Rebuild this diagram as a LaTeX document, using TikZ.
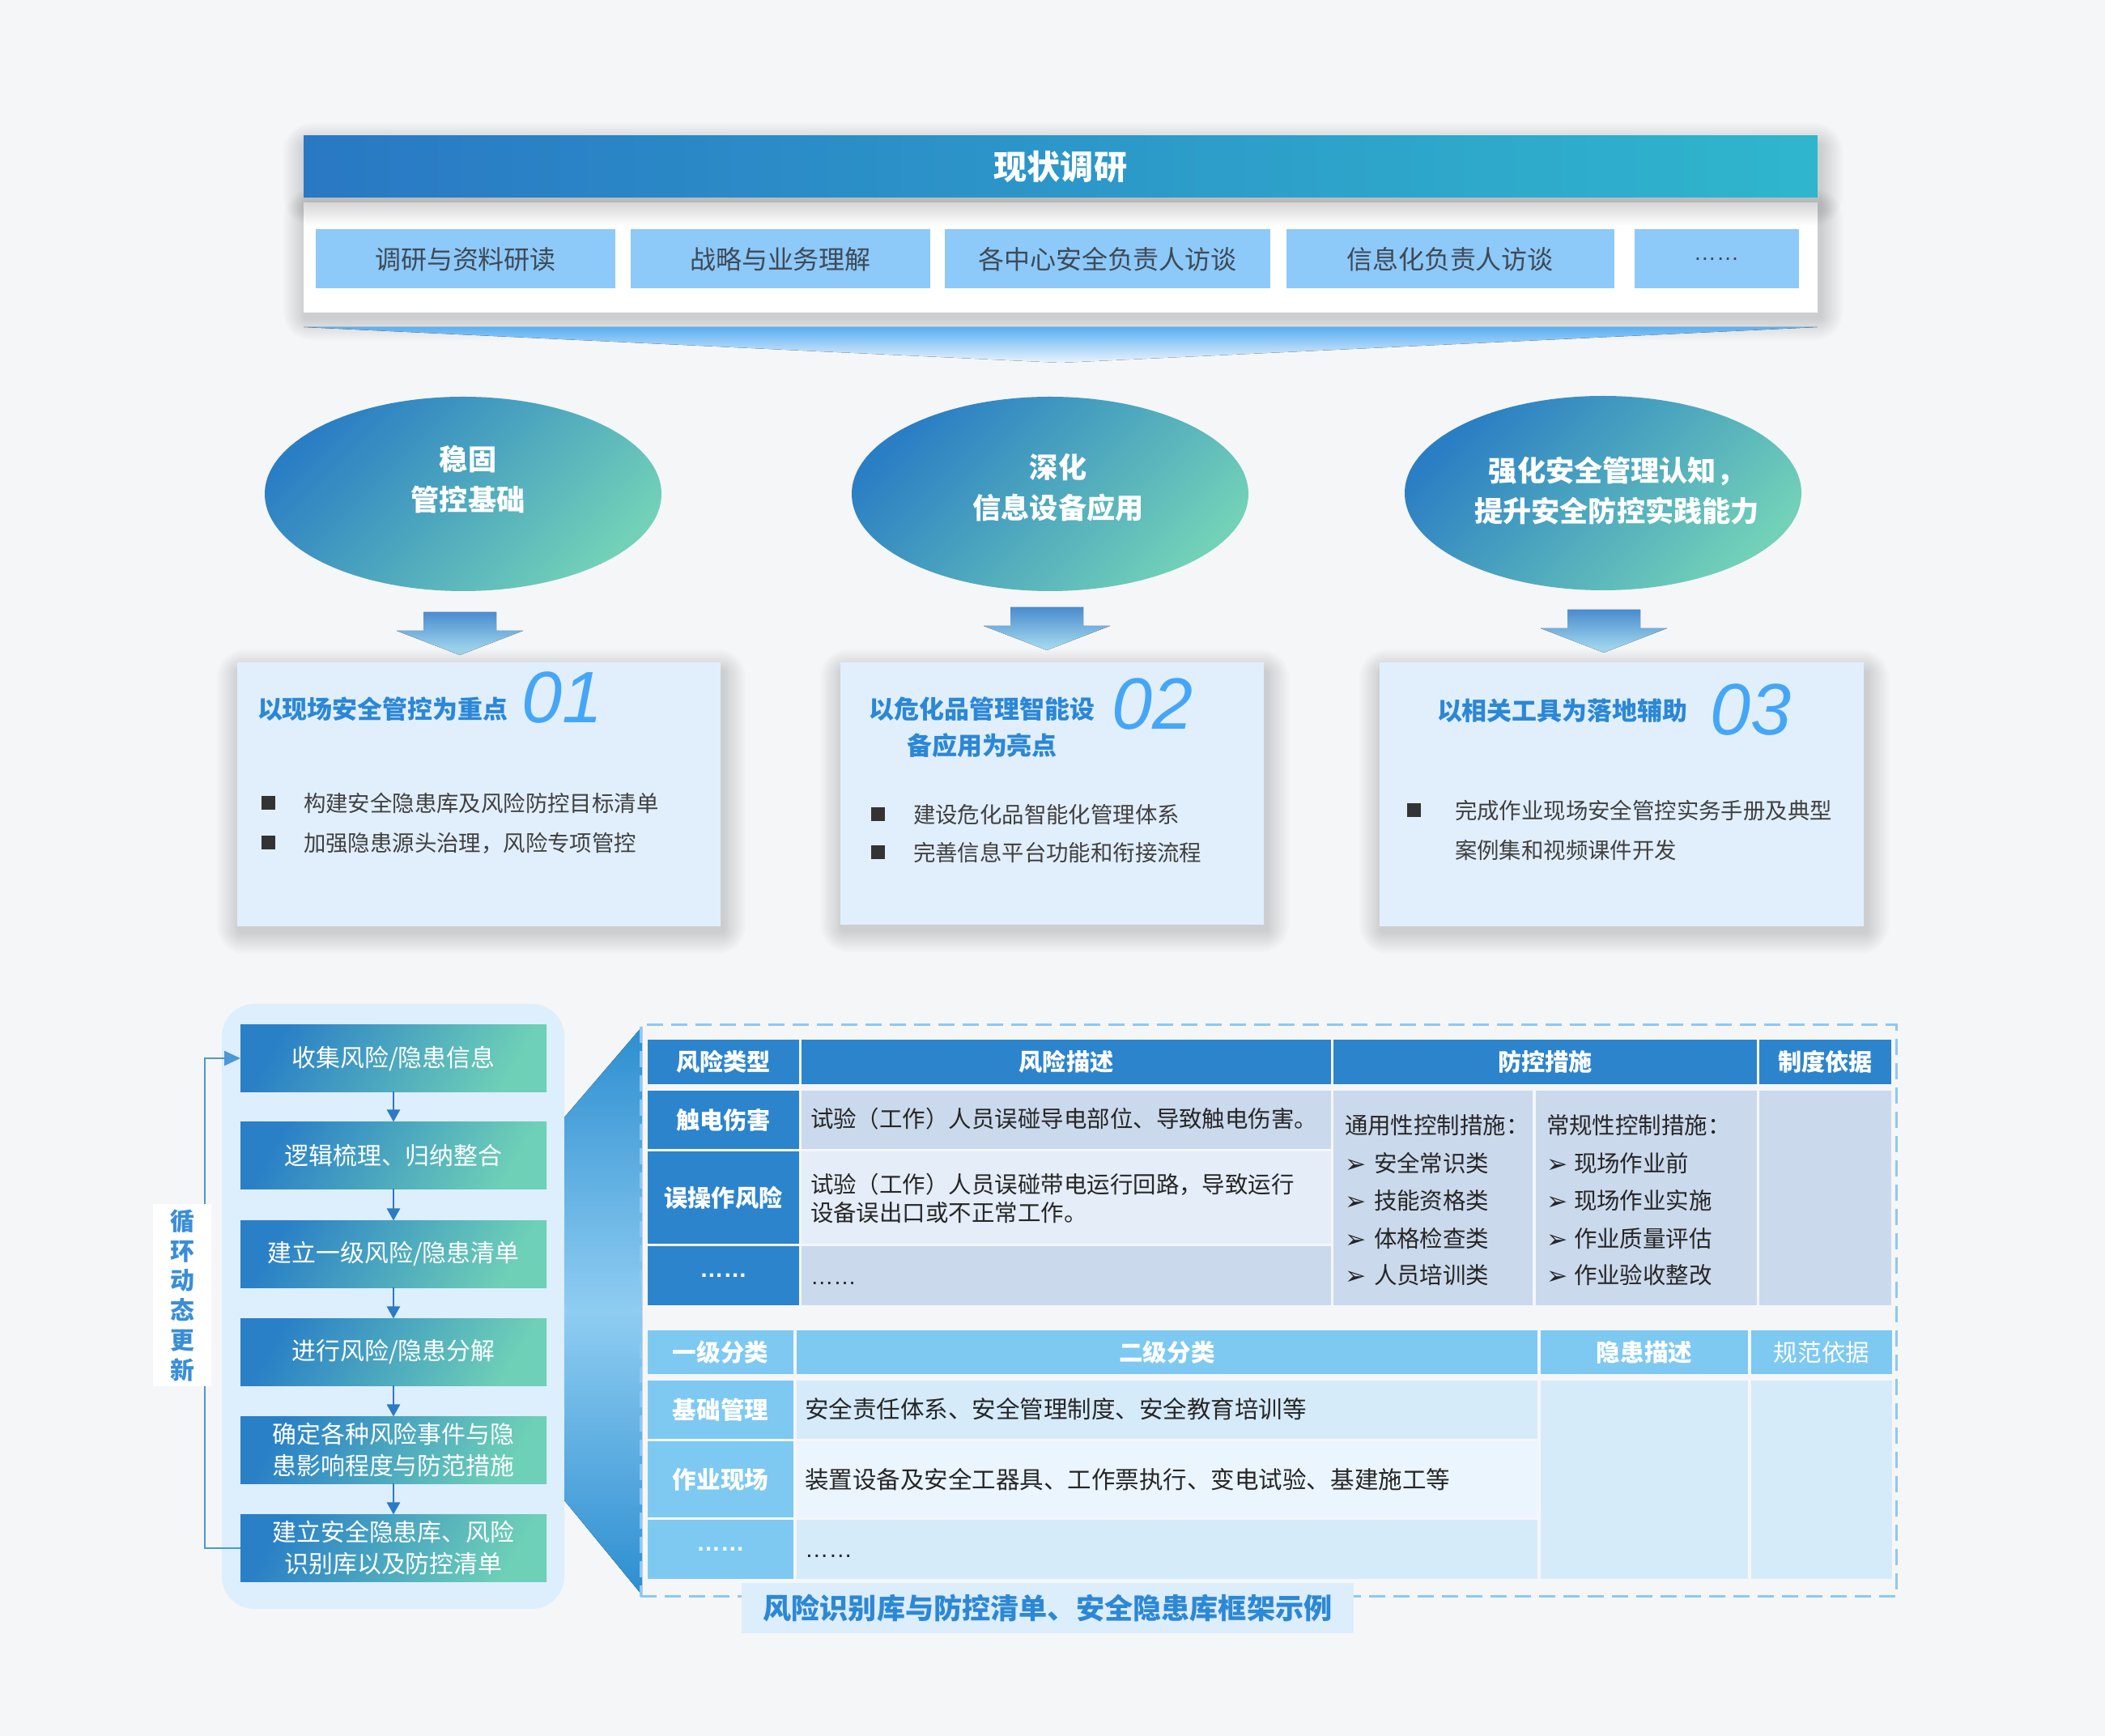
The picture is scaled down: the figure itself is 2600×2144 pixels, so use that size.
\documentclass[tikz,border=0pt]{standalone}
\usepackage{fontspec}
\setmainfont{Noto Sans CJK SC}
\newfontfamily\latinf{Liberation Sans}
\newfontfamily\dejavuf{DejaVu Sans}
\usetikzlibrary{shapes.geometric,arrows.meta}
\newcommand\setfs[2]{\fontsize{#1pt}{#2pt}\selectfont}
\newcommand\dotsix{{\latinf ……}}
\newcommand\arrg{\raisebox{-0.1mm}{\scalebox{1.1}{\dejavuf ➢}}}
\definecolor{bgc}{HTML}{F5F6F8}
\definecolor{bannerL}{HTML}{2978C4}
\definecolor{bannerR}{HTML}{2FB6CD}
\definecolor{sboxc}{HTML}{8DC9F9}
\definecolor{sboxt}{HTML}{3E4A56}
\definecolor{chevA}{HTML}{5AAFF3}
\definecolor{chevB}{HTML}{EAF4FD}
\definecolor{ellA}{HTML}{2A7EC4}
\definecolor{ellB}{HTML}{72D1B8}
\definecolor{arrA}{HTML}{4A8CCF}
\definecolor{arrB}{HTML}{A9DEF0}
\definecolor{cardc}{HTML}{E1EFFD}
\definecolor{titlec}{HTML}{2C87D5}
\definecolor{numc}{HTML}{46A6F6}
\definecolor{bulc}{HTML}{333333}
\definecolor{btextc}{HTML}{404040}
\definecolor{lpanelc}{HTML}{DDEEFC}
\definecolor{stepA}{HTML}{2A80C6}
\definecolor{stepB}{HTML}{6ED0B7}
\definecolor{steparr}{HTML}{2B7AC3}
\definecolor{loopc}{HTML}{4B97D7}
\definecolor{vtextc}{HTML}{3A8ED8}
\definecolor{funA}{HTML}{2C8ED0}
\definecolor{funM}{HTML}{8FCDF2}
\definecolor{dashc}{HTML}{8EC8F2}
\definecolor{tblue}{HTML}{2C84CC}
\definecolor{tdark}{HTML}{CBD9EC}
\definecolor{tlight}{HTML}{E5EDF8}
\definecolor{ublue}{HTML}{7DC9F1}
\definecolor{ubody}{HTML}{D6EBFA}
\definecolor{ulight}{HTML}{EBF5FD}
\definecolor{bodyc}{HTML}{262626}
\definecolor{capbg}{HTML}{DCEDFC}
\definecolor{capt}{HTML}{2D88D4}
\newcommand\tcell[7]{\node[#6,anchor=north west,minimum width={(#4-#2)*0.1mm},minimum height={(#5-#3)*0.1mm}] (#1) at (#2,#3) {#7};}
\newcommand\fatarrow[2]{\fill[fatarr] (#1-45,#2) -- (#1+45,#2) -- (#1+45,#2+23) -- (#1+78,#2+23) -- (#1,#2+53) -- (#1-78,#2+23) -- (#1-45,#2+23) -- cycle;}
\newcommand\shadowbox[5]{\foreach \i in {1,...,10}{\fill[black,opacity=#5,rounded corners={\i*0.35mm}] ({#1-\i*2.8+3},{#2-\i*2.8+12}) rectangle ({#3+\i*2.8+3},{#4+\i*2.8+6});}}
\begin{document}
\begin{tikzpicture}[x=0.1mm,y=-0.1mm,
 every node/.style={inner sep=0pt,outer sep=0pt},
 banner/.style={rectangle,left color=bannerL,right color=bannerR,text=white,font=\setfs{11.7}{14}\bfseries},
 toppanel/.style={rectangle,fill=white},
 sbox/.style={rectangle,fill=sboxc,minimum height=7.3mm,text=sboxt,font=\setfs{9.1}{11}},
 ell/.style={ellipse,minimum width=49mm,minimum height=24mm,top color=ellA,bottom color=ellB,shading angle=45},
 elltext/.style={text=white,align=center,font=\setfs{10}{14.2}\bfseries},
 fatarr/.style={top color=arrA,bottom color=arrB},
 card/.style={rectangle,fill=cardc,anchor=north west},
 ctitle/.style={text=titlec,font=\setfs{8.8}{12.8}\bfseries},
 cnum/.style={text=numc,anchor=west,font=\latinf\itshape\setfs{25.6}{30}},
 bsq/.style={fill=bulc,minimum width=1.7mm,minimum height=1.7mm},
 btext/.style={text=btextc,font=\setfs{7.8}{13.9},anchor=west},
 lpanel/.style={rectangle,rounded corners=4mm,fill=lpanelc},
 stepbox/.style={rectangle,minimum width=37.8mm,minimum height=8.3mm,top color=stepA,bottom color=stepB,shading angle=60,text=white,align=center,font=\setfs{8.5}{11.1}},
 steparrow/.style={draw=steparr,line width=0.25mm,-{Triangle[length=1.5mm,width=1.6mm]}},
 loopline/.style={draw=loopc,line width=0.25mm,-{Triangle[length=2mm,width=1.8mm]}},
 vtext/.style={fill=white,text=vtextc,align=center,minimum width=7.2mm,minimum height=22.5mm,font=\setfs{8.5}{10.5}\bfseries},
 th/.style={fill=tblue,text=white,font=\setfs{8.3}{10}\bfseries},
 tdk/.style={fill=tdark},
 tlt/.style={fill=tlight},
 uh/.style={fill=ublue,text=white,font=\setfs{8.4}{10}\bfseries},
 uhr/.style={fill=ublue,text=white,font=\setfs{8.4}{10}},
 ubd/.style={fill=ubody},
 ult/.style={fill=ulight},
 body/.style={text=bodyc,font=\setfs{8.1}{10},align=left,anchor=west},
 ubodyt/.style={text=bodyc,font=\setfs{8.4}{10},align=left,anchor=west},
 frame/.style={draw=dashc,line width=0.3mm,dash pattern=on 2mm off 1mm},
 caption/.style={fill=capbg,text=capt,font=\setfs{10}{12}\bfseries}
]
\useasboundingbox (0,0) rectangle (2600,2144);
\fill[bgc] (0,0) rectangle (2600,2144);

% ---------- top section ----------
\shadowbox{375}{250}{2245}{386}{0.014}
\node[toppanel,anchor=north west,minimum width=187mm,minimum height=13.6mm] (tp) at (375,250) {};
\shadowbox{375}{168}{2245}{244}{0.016}
\node[banner,anchor=north west,minimum width=187mm,minimum height=7.6mm] (ban) at (375,168) {现状调研};
\node[sbox,minimum width=37mm] (s1) at (575,320) {调研与资料研读};
\node[sbox,minimum width=37mm] (s2) at (964,320) {战略与业务理解};
\node[sbox,minimum width=40.2mm] (s3) at (1368,320) {各中心安全负责人访谈};
\node[sbox,minimum width=40.5mm] (s4) at (1791,320) {信息化负责人访谈};
\node[sbox,minimum width=20.3mm] (s5) at (2120,320) {\setfs{8}{10}\dotsix};
\fill[top color=chevA,bottom color=chevB] (375,404) -- (2245,404) -- (1310,448) -- cycle;

% ---------- ellipses ----------
\node[ell] (e1) at (572,610) {};
\node[elltext] (e1t) at (578,592) {稳固\\管控基础};
\node[ell] (e2) at (1297,610) {};
\node[elltext] (e2t) at (1307,602) {深化\\信息设备应用};
\node[ell] (e3) at (1980,609) {};
\node[elltext] (e3t) at (1997,606) {强化安全管理认知，\\提升安全防控实践能力};

% ---------- fat arrows ----------
\fatarrow{568}{756}
\fatarrow{1293}{750}
\fatarrow{1981}{753}

% ---------- cards ----------
\shadowbox{293}{818}{890}{1144}{0.016}
\shadowbox{1038}{818}{1561}{1142}{0.016}
\shadowbox{1704}{818}{2302}{1144}{0.016}
\node[card,minimum width=59.7mm,minimum height=32.6mm] (k1) at (293,818) {};
\node[card,minimum width=52.3mm,minimum height=32.4mm] (k2) at (1038,818) {};
\node[card,minimum width=59.8mm,minimum height=32.6mm] (k3) at (1704,818) {};

\node[ctitle,anchor=west] (k1t) at (318,876) {以现场安全管控为重点};
\node[cnum] (k1n) at (644,862) {01};
\node[ctitle,align=center] (k2t) at (1213,898) {以危化品管理智能设\\备应用为亮点};
\node[cnum] (k2n) at (1373,870) {02};
\node[ctitle,anchor=west] (k3t) at (1775,878) {以相关工具为落地辅助};
\node[cnum] (k3n) at (2112,877) {03};

\node[bsq] (k1q1) at (331,992) {};
\node[btext] (k1l1) at (375,992) {构建安全隐患库及风险防控目标清单};
\node[bsq] (k1q2) at (331,1041) {};
\node[btext] (k1l2) at (375,1041) {加强隐患源头治理，风险专项管控};
\node[bsq] (k2q1) at (1084,1006) {};
\node[btext] (k2l1) at (1128,1006) {建设危化品智能化管理体系};
\node[bsq] (k2q2) at (1084,1053) {};
\node[btext] (k2l2) at (1128,1053) {完善信息平台功能和衔接流程};
\node[bsq] (k3q1) at (1746,1001) {};
\node[btext] (k3l1) at (1797,1001) {完成作业现场安全管控实务手册及典型};
\node[btext] (k3l2) at (1797,1050) {案例集和视频课件开发};

% ---------- left flow panel ----------
\node[lpanel,anchor=north west,minimum width=42.3mm,minimum height=74.7mm] (lp) at (274,1240) {};
\node[stepbox] (p1) at (486,1307) {收集风险/隐患信息};
\node[stepbox] (p2) at (486,1427) {逻辑梳理、归纳整合};
\node[stepbox] (p3) at (486,1549) {建立一级风险/隐患清单};
\node[stepbox] (p4) at (486,1670) {进行风险/隐患分解};
\node[stepbox] (p5) at (486,1791) {确定各种风险事件与隐\\患影响程度与防范措施};
\node[stepbox] (p6) at (486,1912) {建立安全隐患库、风险\\识别库以及防控清单};
\draw[steparrow] (p1) -- (p2);
\draw[steparrow] (p2) -- (p3);
\draw[steparrow] (p3) -- (p4);
\draw[steparrow] (p4) -- (p5);
\draw[steparrow] (p5) -- (p6);
\coordinate (lx) at (253,1600);
\draw[loopline] (p6.west) -- (p6.west -| lx) |- (p1.west);
\node[vtext] (vt) at (225,1600) {循\\环\\动\\态\\更\\新};

% ---------- funnel + frame ----------
\fill[top color=funA,bottom color=funA,middle color=funM] (697,1380) -- (793,1268) -- (793,1970) -- (697,1853) -- cycle;
\node[frame,anchor=north west,minimum width=155.1mm,minimum height=70.6mm] (fr) at (791,1266) {};

% ---------- table 1 ----------
\tcell{h1}{800}{1284}{987}{1339}{th}{风险类型}
\tcell{h2}{990}{1284}{1644}{1339}{th}{风险描述}
\tcell{h3}{1647}{1284}{2170}{1339}{th}{防控措施}
\tcell{h4}{2173}{1284}{2336}{1339}{th}{制度依据}
\tcell{a1}{800}{1347}{987}{1419}{th}{触电伤害}
\tcell{a2}{800}{1422}{987}{1536}{th}{误操作风险}
\tcell{a3}{800}{1539}{987}{1612}{th}{\dotsix}
\tcell{b1}{990}{1347}{1644}{1419}{tdk}{}
\tcell{b2}{990}{1422}{1644}{1536}{tlt}{}
\tcell{b3}{990}{1539}{1644}{1612}{tdk}{}
\tcell{c1}{1647}{1347}{1893}{1612}{tdk}{}
\tcell{c2}{1897}{1347}{2170}{1612}{tdk}{}
\tcell{d1}{2173}{1347}{2336}{1612}{tdk}{}
\node[body] (b1t) at (1001,1382) {试验（工作）人员误碰导电部位、导致触电伤害。};
\node[body] (b2t) at (1001,1480) {试验（工作）人员误碰带电运行回路，导致运行\\设备误出口或不正常工作。};
\node[body] (b3t) at (1001,1585) {\dotsix};
\node[body] (c1t0) at (1661,1390) {通用性控制措施：};
\node[body] (c1t1) at (1661,1437) {\makebox[3.6mm][l]{\arrg}安全常识类};
\node[body] (c1t2) at (1661,1483) {\makebox[3.6mm][l]{\arrg}技能资格类};
\node[body] (c1t3) at (1661,1530) {\makebox[3.6mm][l]{\arrg}体格检查类};
\node[body] (c1t4) at (1661,1575) {\makebox[3.6mm][l]{\arrg}人员培训类};
\node[body] (c2t0) at (1910,1390) {常规性控制措施：};
\node[body] (c2t1) at (1910,1437) {\makebox[3.4mm][l]{\arrg}现场作业前};
\node[body] (c2t2) at (1910,1483) {\makebox[3.4mm][l]{\arrg}现场作业实施};
\node[body] (c2t3) at (1910,1530) {\makebox[3.4mm][l]{\arrg}作业质量评估};
\node[body] (c2t4) at (1910,1575) {\makebox[3.4mm][l]{\arrg}作业验收整改};

% ---------- table 2 ----------
\tcell{H1}{800}{1643}{980}{1697}{uh}{一级分类}
\tcell{H2}{984}{1643}{1899}{1697}{uh}{二级分类}
\tcell{H3}{1903}{1643}{2159}{1697}{uh}{隐患描述}
\tcell{H4}{2163}{1643}{2337}{1697}{uhr}{规范依据}
\tcell{A1}{800}{1705}{980}{1777}{uh}{基础管理}
\tcell{A2}{800}{1780}{980}{1874}{uh}{作业现场}
\tcell{A3}{800}{1877}{980}{1950}{uh}{\dotsix}
\tcell{B1}{984}{1705}{1899}{1777}{ubd}{}
\tcell{B2}{984}{1780}{1899}{1874}{ult}{}
\tcell{B3}{984}{1877}{1899}{1950}{ubd}{}
\tcell{C1}{1903}{1705}{2159}{1950}{ubd}{}
\tcell{D1}{2163}{1705}{2337}{1950}{ubd}{}
\node[ubodyt] (B1t) at (994,1740) {安全责任体系、安全管理制度、安全教育培训等};
\node[ubodyt] (B2t) at (994,1827) {装置设备及安全工器具、工作票执行、变电试验、基建施工等};
\node[ubodyt] (B3t) at (994,1922) {\dotsix};

% ---------- caption ----------
\node[caption,anchor=north west,minimum width=75.6mm,minimum height=6.2mm] (cap) at (916,1955) {风险识别库与防控清单、安全隐患库框架示例};
\end{tikzpicture}
\end{document}
